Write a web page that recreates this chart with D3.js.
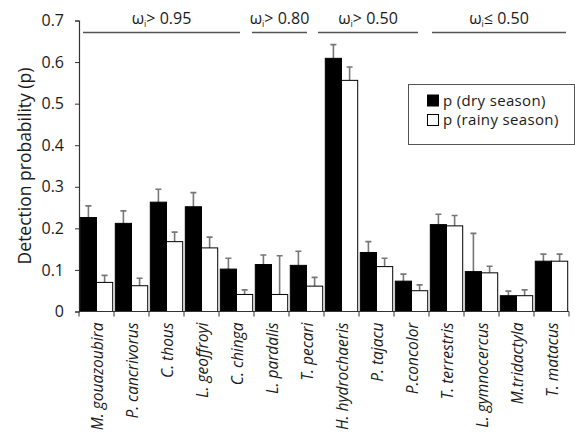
<!DOCTYPE html>
<html>
<head>
<meta charset="utf-8">
<script src="https://cdn.jsdelivr.net/npm/d3@7"></script>
<style>
  body { margin: 0; background: #fff; }
  text { font-family: "Open Sans", Lato, sans-serif; fill: #1a1a1a; }
</style>
</head>
<body>
<script>
// species on the x axis
var species = ["M. gouazoubira", "P. cancrivorus", "C. thous", "L. geoffroyi", "C. chinga",
  "L. pardalis", "T. pecari", "H. hydrochaeris", "P. tajacu", "P.concolor",
  "T. terrestris", "L. gymnocercus", "M.tridactyla", "T. matacus"]

// detection probability, dry season + upper error
var pDry    = [0.226, 0.212, 0.263, 0.252, 0.102, 0.113, 0.111, 0.609, 0.142, 0.073, 0.209, 0.096, 0.038, 0.121]
var errDry  = [0.254, 0.242, 0.294, 0.286, 0.128, 0.136, 0.145, 0.642, 0.168, 0.090, 0.234, 0.188, 0.049, 0.138]

// rainy season
var pRainy   = [0.070, 0.062, 0.168, 0.153, 0.041, 0.041, 0.061, 0.556, 0.108, 0.050, 0.206, 0.093, 0.038, 0.121]
var errRainy = [0.087, 0.080, 0.191, 0.179, 0.052, 0.134, 0.082, 0.588, 0.128, 0.064, 0.231, 0.109, 0.052, 0.138]

var yTicks = [0, 0.1, 0.2, 0.3, 0.4, 0.5, 0.6, 0.7]

// weight groups above the bars
var groupOp    = [">", ">", ">", "\u2264"]
var groupValue = ["0.95", "0.80", "0.50", "0.50"]
var groupFirst = ["M. gouazoubira", "L. pardalis", "H. hydrochaeris", "T. terrestris"]
var groupLast  = ["C. chinga", "T. pecari", "P.concolor", "T. matacus"]

var seriesNames = ["p (dry season)", "p (rainy season)"]

var svg = d3.select("body").append("svg")
  .attr("width", 575)
  .attr("height", 436)

var x = d3.scaleBand()
  .domain(species)
  .range([79, 569])

var sub = d3.scaleBand()
  .domain([0, 1])
  .range([0, x.bandwidth()])
  .paddingOuter(0.08)

var y = d3.scaleLinear()
  .domain([0, 0.7])
  .range([311.5, 20.5])

// y axis
var yAxis = d3.axisLeft(y)
  .tickValues(yTicks)
  .tickSize(4)
  .tickPadding(11)
  .tickFormat(d => d === 0 ? "0" : d3.format(".1f")(d))

var yg = svg.append("g")
  .attr("transform", "translate(79,0)")
  .call(yAxis)
yg.select(".domain").attr("stroke", "#333").attr("stroke-width", 1.2)
yg.selectAll(".tick line").attr("stroke", "#333")
yg.selectAll(".tick text").style("font-size", "16px").attr("fill", "#1a1a1a")

svg.append("text")
  .attr("transform", "translate(31,166) rotate(-90)")
  .attr("text-anchor", "middle")
  .style("font-size", "17.5px")
  .text("Detection probability (p)")

// bars
var rows = species.map((s, i) => ({
  name: s,
  vals: [
    { k: 0, v: pDry[i], e: errDry[i] },
    { k: 1, v: pRainy[i], e: errRainy[i] }
  ]
}))

var grp = svg.selectAll(".sp")
  .data(rows)
  .enter()
  .append("g")
  .attr("transform", d => "translate(" + x(d.name) + ",0)")

// error bars first so the bar covers the lower part
grp.selectAll(".err")
  .data(d => d.vals)
  .enter()
  .append("path")
  .attr("fill", "none")
  .attr("stroke", "#777")
  .attr("stroke-width", 1.6)
  .attr("d", d => {
    var cx = sub(d.k) + sub.bandwidth() / 2
    return "M" + cx + "," + y(d.v) + "V" + y(d.e) + "M" + (cx - 3) + "," + y(d.e) + "H" + (cx + 3)
  })

grp.selectAll("rect")
  .data(d => d.vals)
  .enter()
  .append("rect")
  .attr("x", d => sub(d.k))
  .attr("width", sub.bandwidth())
  .attr("y", d => y(d.v))
  .attr("height", d => y(0) - y(d.v))
  .attr("fill", d => d.k === 0 ? "#000" : "#fff")
  .attr("stroke", "#000")
  .attr("stroke-width", 1)

// x axis
var xg = svg.append("g")
  .attr("transform", "translate(0,311.5)")
xg.append("line")
  .attr("x1", 79).attr("x2", 569)
  .attr("stroke", "#333").attr("stroke-width", 1.2)
var bounds = species.map(s => x(s)).concat([x.range()[1]])
xg.selectAll(".tk")
  .data(bounds)
  .enter()
  .append("line")
  .attr("x1", d => d).attr("x2", d => d)
  .attr("y1", 0).attr("y2", 5)
  .attr("stroke", "#333")

xg.selectAll(".lbl")
  .data(species)
  .enter()
  .append("text")
  .attr("transform", d => "translate(" + (x(d) + x.bandwidth() / 2 + 6) + ",11) rotate(-90)")
  .attr("text-anchor", "end")
  .style("font-size", "15.5px")
  .style("font-style", "italic")
  .text(d => d)

// group lines + labels
var insetL = [4, -2, -6, 3]
var insetR = [14, 17, 11, 3]
groupFirst.forEach((f, i) => {
  var x1 = x(f) + insetL[i]
  var x2 = x(groupLast[i]) + x.bandwidth() - insetR[i]
  svg.append("line")
    .attr("x1", x1).attr("x2", x2)
    .attr("y1", 32.5).attr("y2", 32.5)
    .attr("stroke", "#555").attr("stroke-width", 1.5)
  var t = svg.append("text")
    .attr("x", (x1 + x2) / 2)
    .attr("y", 24)
    .attr("text-anchor", "middle")
    .style("font-size", "16px")
  t.append("tspan").text("\u03c9")
  t.append("tspan").attr("dy", 3).style("font-size", "9px").text("i")
  t.append("tspan").attr("dy", -3).text(groupOp[i] + " " + groupValue[i])
})

// legend
var lg = svg.append("g")
lg.append("rect")
  .attr("x", 408.5).attr("y", 84.5)
  .attr("width", 166).attr("height", 60)
  .attr("fill", "#fff")
  .attr("stroke", "#555")
seriesNames.forEach((n, i) => {
  lg.append("rect")
    .attr("x", 427.5).attr("y", 95 + i * 19.5)
    .attr("width", 11).attr("height", 11)
    .attr("fill", i === 0 ? "#000" : "#fff")
    .attr("stroke", "#000")
  lg.append("text")
    .attr("x", 443).attr("y", 105.5 + i * 19.5)
    .style("font-size", "15px")
    .style("letter-spacing", "0.35px")
    .text(n)
})
</script>
</body>
</html>
